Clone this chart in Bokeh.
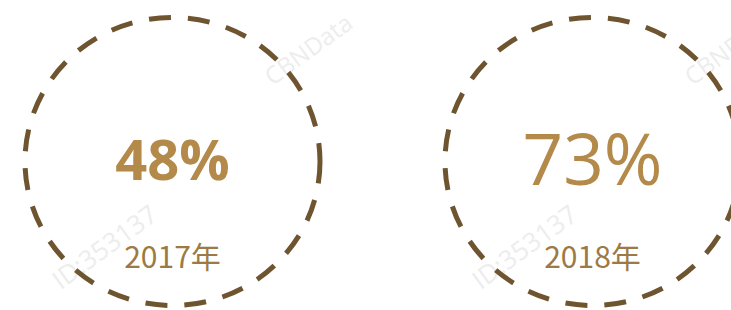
from bokeh.plotting import figure
from bokeh.models import Range1d, ColumnDataSource
from bokeh.core.properties import value
from bokeh.embed import file_html
from bokeh.resources import INLINE

# ---- data ----
years = ["2017年", "2018年"]
shares = [48, 73]
pct_labels = [f"{v}%" for v in shares]
wm_lower = "ID:353137"
wm_upper = "CBNData"

# ---- layout ----
W, H = 731, 310
step = 420.0          # px between circle centres
c0 = 172.0            # px of first centre
x_lo = -c0 / step
x_hi = (W - c0) / step

p = figure(width=W, height=H, output_backend="svg", toolbar_location=None,
           x_range=Range1d(x_lo, x_hi), y_range=Range1d(0, H),
           min_border=0, background_fill_color="white",
           border_fill_color="white")
p.axis.visible = False
p.grid.visible = False
p.outline_line_color = None

idx = list(range(len(years)))
src = ColumnDataSource(dict(
    x=idx,
    year=years,
    pct=pct_labels,
    size=["56px", "71px"],
    style=["bold", "normal"],
    ymid=[153, 153],
))

# faint watermark
wm_x_end = [i - 0.045 for i in idx]
wm_x_start = [i + 0.225 for i in idx]
p.text(x=wm_x_end, y=[100] * 2, text=[wm_lower] * 2, angle=36, angle_units="deg",
       text_align="right", text_baseline="middle", text_color="#ededed",
       text_font=value("Open Sans"), text_font_size="26px")
p.text(x=wm_x_start, y=[232] * 2, text=[wm_upper] * 2, angle=36, angle_units="deg",
       text_align="left", text_baseline="middle", text_color="#ededed",
       text_font=value("Open Sans"), text_font_size="24px")

# dashed rings
p.ellipse(x="x", y=149, width=295, height=288, width_units="screen",
          height_units="screen", source=src, fill_color=None,
          line_color="#6e5530", line_width=5, line_dash="22 17")

# percentage
p.text(x="x", y="ymid", text="pct", source=src, text_align="center",
       text_baseline="middle", text_color="#b38a4a",
       text_font=value("Open Sans"), text_font_size="size",
       text_font_style="style")

# year label
p.text(x="x", y=56, text="year", source=src, text_align="center",
       text_baseline="middle", text_color="#9c7a45",
       text_font=value("Noto Sans CJK SC"), text_font_size="30px")

open("out.html", "w").write(file_html(p, INLINE))
